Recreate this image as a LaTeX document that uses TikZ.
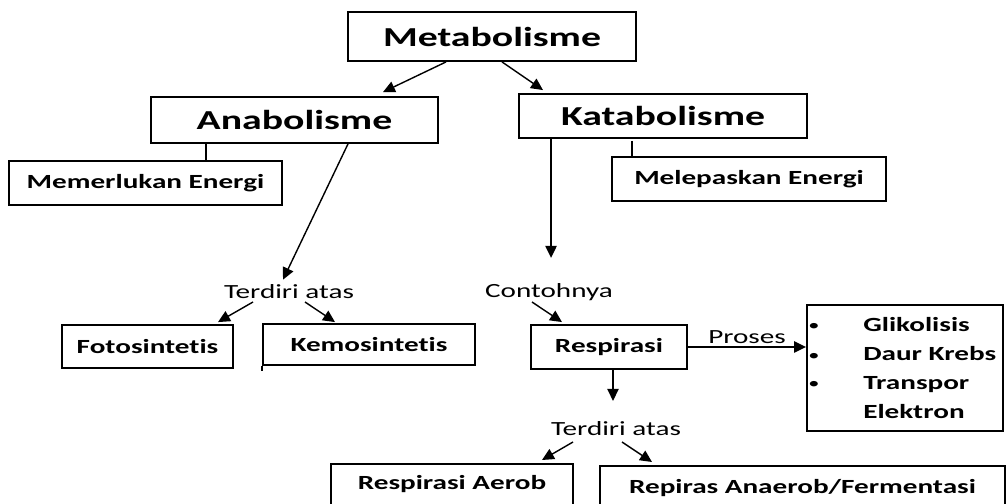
\documentclass[tikz,border=0pt]{standalone}
\usepackage{fontspec}
\setmainfont[FakeStretch=1.45, Ligatures=NoCommon]{Carlito}
\usetikzlibrary{arrows.meta,calc}

\tikzset{
	box/.style={draw, line width=1.3pt, font=\bfseries\fontsize{14.3}{16}\selectfont, inner sep=0pt},
	bigbox/.style={box, font=\bfseries\fontsize{19.5}{22}\selectfont},
	lowbox/.style={box, anchor=north, text height=18.5pt, text depth=2cm},
	lbl/.style={font=\fontsize{14.3}{16}\selectfont, inner sep=0pt},
	listtext/.style={font=\bfseries\fontsize{14.3}{16}\selectfont, inner sep=0pt, anchor=base west},
	bul/.style={font=\fontsize{11}{12}\selectfont, inner sep=0pt, anchor=base},
	arr/.style={-{Triangle[length=8.5pt,width=8pt]}, line width=1pt},
}

\begin{document}
\begin{tikzpicture}[x=0.025cm,y=-0.025cm]
					\useasboundingbox (0,0) rectangle (1008,504);
					
					\path (492,36.5) node[bigbox, minimum width=7.2cm, minimum height=1.225cm] (meta) {Metabolisme};
					\path (294.5,120) node[bigbox, minimum width=7.175cm, minimum height=1.15cm] (ana) {Anabolisme};
					\path (663,116) node[bigbox, minimum width=7.2cm, minimum height=1.1cm] (kata) {Katabolisme};
					\path (145.5,183) node[box, minimum width=6.825cm, minimum height=1.1cm] (perlu) {Memerlukan Energi};
					\path (749,179) node[box, minimum width=6.85cm, minimum height=1.1cm] (lepas) {Melepaskan Energi};
					\path (147.5,346.5) node[box, minimum width=4.275cm, minimum height=1.075cm] (foto) {Fotosintetis};
					\path (369,344.5) node[box, minimum width=5.3cm, minimum height=1.025cm] (kemo) {Kemosintetis};
					\path (609,347) node[box, minimum width=3.9cm, minimum height=1.1cm] (resp) {Respirasi};
					\path (905,368) node[box, minimum width=4.9cm, minimum height=3.15cm] (daftar) {};
					\path (452,463) node[lowbox, minimum width=6.05cm] (aerob) {Respirasi Aerob};
					\path (802.5,465) node[lowbox, minimum width=10.125cm, text height=19.8pt] (anaer) {Repiras Anaerob/Fermentasi};
					
					\path (289,292) node[lbl] (terdiri1) {Terdiri atas};
					\path (549,292) node[lbl] (contoh) {Contohnya};
					\path (616,429) node[lbl] (terdiri2) {Terdiri atas};
					
					\path (814,331) node[bul] (b1) {\textbullet};
					\path (814,361) node[bul] (b2) {\textbullet};
					\path (814,389) node[bul] (b3) {\textbullet};
					\path (863,332) node[listtext] (glik) {Glikolisis};
					\path (863,361) node[listtext] (krebs) {Daur Krebs};
					\path (863,390) node[listtext] (trans) {Transpor};
					\path (863,419) node[listtext] (elek) {Elektron};
					
					\draw[arr] ($(meta.south west)+(99,0)$) -- ($(ana.north)+(88.5,-4)$);
					\draw[arr] ($(meta.south)+(10,0)$) -- ($(kata.north)+(-120,-3)$);
					\draw[line width=1pt] ($(ana.south west)+(56,0)$) -- +(0,18);
					\draw[line width=1pt] ($(kata.south west)+(114,2)$) -- +(0,17);
					\draw[arr] ($(kata.south west)+(33,0)$) -- +(0,119);
					\draw[arr] ($(ana.south)+(53.5,0)$) -- ($(terdiri1.north)+(-6,-5)$);
					\draw[arr] ($(terdiri1.center)+(-36,10)$) -- ($(foto.north)+(70.5,-2)$);
					\draw[arr] ($(terdiri1.center)+(16,10)$) -- ($(kemo.north)+(-34,-1)$);
					\draw[line width=1pt] (kemo.south west) -- +(0,5);
					\draw[arr] ($(contoh.center)+(-17,10)$) -- ($(resp.north)+(-47,-2)$);
					\draw[arr] (resp.east) -- (resp.east -| daftar.west) node[lbl, midway, above=2pt] (proses) {Proses};
					\draw[arr] ($(resp.south)+(4,0)$) -- +(0,31);
					\draw[arr] ($(terdiri2.center)+(-43,13)$) -- ($(aerob.north)+(90,-3)$);
					\draw[arr] ($(terdiri2.center)+(6,13)$) -- ($(anaer.north)+(-150.5,-3)$);
\end{tikzpicture}
\end{document}
